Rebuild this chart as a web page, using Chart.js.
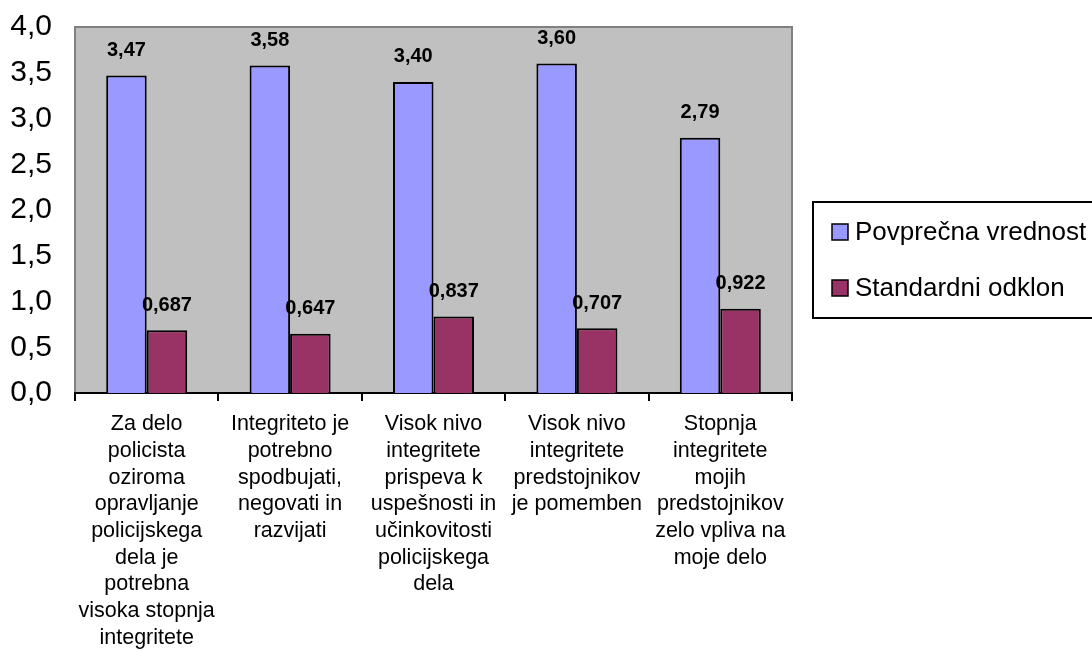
<!DOCTYPE html>
<html>
<head>
<meta charset="utf-8">
<script src="https://cdn.jsdelivr.net/npm/chart.js@4/dist/chart.umd.min.js"></script>
<style>
  html, body { margin: 0; padding: 0; background: #fff; }
  canvas { display: block; }
</style>
</head>
<body>
<canvas id="chart" width="1092" height="651"></canvas>
<script>
const categories = [
    ["Za delo", "policista", "oziroma", "opravljanje", "policijskega", "dela je", "potrebna", "visoka stopnja", "integritete"],
    ["Integriteto je", "potrebno", "spodbujati,", "negovati in", "razvijati"],
    ["Visok nivo", "integritete", "prispeva k", "uspešnosti in", "učinkovitosti", "policijskega", "dela"],
    ["Visok nivo", "integritete", "predstojnikov", "je pomemben"],
    ["Stopnja", "integritete", "mojih", "predstojnikov", "zelo vpliva na", "moje delo"],
];
const seriesNames = ["Povprečna vrednost", "Standardni odklon"];
const meanValues = [3.47, 3.58, 3.40, 3.60, 2.79];
const sdValues = [0.687, 0.647, 0.837, 0.707, 0.922];
const labelDecimals = [2, 3];

const FONT = "'Liberation Sans', Arial, sans-serif";
const fmt = (v, d) => v.toFixed(d).replace(".", ",");

// gray plot area with border
const plotBg = {
    id: "plotBg",
    beforeDraw(chart) {
        const { ctx, chartArea: a } = chart;
        ctx.save();
        ctx.fillStyle = "#ffffff";
        ctx.fillRect(0, 0, chart.width, chart.height);
        ctx.fillStyle = "#C0C0C0";
        ctx.fillRect(a.left, a.top, a.right - a.left, a.bottom - a.top);
        ctx.strokeStyle = "#808080";
        ctx.lineWidth = 2;
        ctx.strokeRect(a.left, a.top, a.right - a.left, a.bottom - a.top);
        ctx.restore();
    }
};

// value labels above bars
const valueLabels = {
    id: "valueLabels",
    afterDatasetsDraw(chart) {
        const ctx = chart.ctx;
        ctx.save();
        ctx.font = "bold 20px " + FONT;
        ctx.fillStyle = "#000";
        ctx.textAlign = "center";
        ctx.textBaseline = "middle";
        chart.data.datasets.forEach((ds, i) => {
            chart.getDatasetMeta(i).data.forEach((bar, j) => {
                ctx.fillText(fmt(ds.data[j], labelDecimals[i]), bar.x, bar.y - 25);
            });
        });
        ctx.restore();
    }
};

// legend box on the right
const boxLegend = {
    id: "boxLegend",
    afterDraw(chart) {
        const ctx = chart.ctx;
        ctx.save();
        ctx.strokeStyle = "#000";
        ctx.lineWidth = 2;
        ctx.strokeRect(813, 202, 300, 116);
        ctx.font = "26px " + FONT;
        ctx.textBaseline = "middle";
        chart.data.datasets.forEach((ds, i) => {
            const cy = 232 + i * 56;
            ctx.fillStyle = ds.backgroundColor;
            ctx.fillRect(832, cy - 8, 16, 16);
            ctx.lineWidth = 1.5;
            ctx.strokeRect(832, cy - 8, 16, 16);
            ctx.fillStyle = "#000";
            ctx.fillText(ds.label, 855, cy + 1);
        });
        ctx.restore();
    }
};

new Chart(document.getElementById("chart"), {
    type: "bar",
    plugins: [plotBg, valueLabels, boxLegend],
    data: {
        labels: categories,
        datasets: [
            {
                label: seriesNames[0],
                data: meanValues,
                backgroundColor: "#9999FF",
                borderColor: "#000",
                borderWidth: 2,
                categoryPercentage: 0.565,
                barPercentage: 1,
            },
            {
                label: seriesNames[1],
                data: sdValues,
                backgroundColor: "#993366",
                borderColor: "#000",
                borderWidth: 2,
                categoryPercentage: 0.565,
                barPercentage: 1,
            },
        ],
    },
    options: {
        responsive: false,
        animation: false,
        layout: { padding: { top: 27, right: 300, left: 0, bottom: 0 } },
        plugins: {
            legend: { display: false },
            tooltip: { enabled: false },
        },
        scales: {
            x: {
                z: 1,
                grid: {
                    offset: true,
                    drawOnChartArea: false,
                    drawTicks: true,
                    tickLength: 8,
                    color: "#000",
                    lineWidth: 2,
                },
                border: { color: "#000", width: 2 },
                ticks: {
                    color: "#000",
                    font: { family: FONT, size: 21.5, lineHeight: "26.7px" },
                    maxRotation: 0,
                    autoSkip: false,
                    padding: 10,
                },
                afterFit(scale) { scale.height = 258; },
            },
            y: {
                min: 0,
                max: 4,
                grid: { display: false, drawTicks: false },
                border: { display: false },
                ticks: {
                    stepSize: 0.5,
                    color: "#000",
                    font: { family: FONT, size: 30 },
                    padding: 23,
                    callback: (v) => fmt(v, 1),
                },
                afterFit(scale) {
                    scale.width = 75;
                    scale.paddingTop = 0;
                    scale.paddingBottom = 0;
                },
            },
        },
    },
});
</script>
</body>
</html>
